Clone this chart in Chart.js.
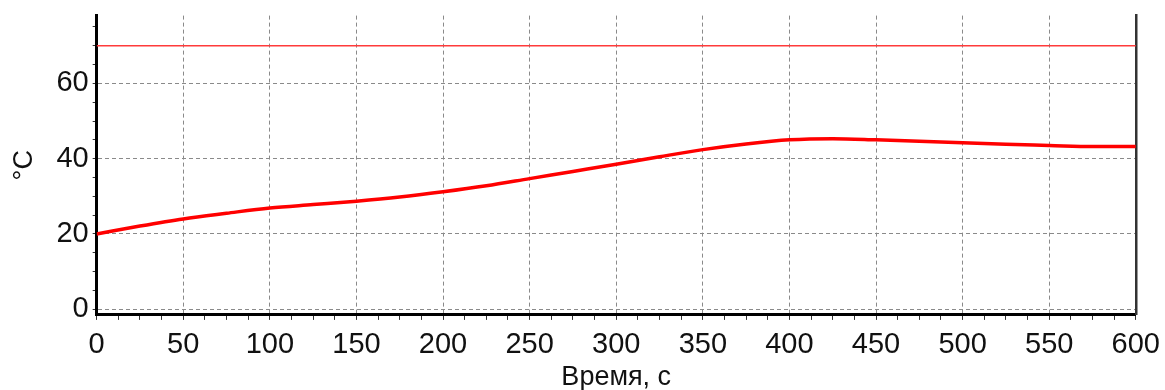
<!DOCTYPE html>
<html>
<head>
<meta charset="utf-8">
<script src="https://cdn.jsdelivr.net/npm/chart.js@4.4.0/dist/chart.umd.min.js"></script>
<style>
  body { margin: 0; background: #fff; }
  #wrap { width: 1165px; height: 390px; }
</style>
</head>
<body>
<div id="wrap"><canvas id="tempChart" width="1165" height="390"></canvas></div>
<script>
// time, s
const timeSec = [0, 25, 50, 75, 100, 125, 150, 175, 200, 225, 250, 275, 300,
  325, 350, 375, 400, 425, 450, 475, 500, 525, 550, 575, 600];
// temperature, °C
const tempC = [20.0, 22.1, 24.0, 25.5, 26.9, 27.8, 28.7, 29.8, 31.2, 32.8, 34.7, 36.6, 38.5,
  40.5, 42.4, 43.9, 45.0, 45.3, 45.0, 44.6, 44.2, 43.8, 43.5, 43.2, 43.2];
// upper limit line
const limitTimes = [0, 600];
const limitValue = 70;

const xTitle = 'Время, с';
const yTitle = '°C';

const fontFamily = '"Liberation Sans", Arial, sans-serif';
const gridGray = '#8a8a8a';

const curve = timeSec.map((t, i) => ({ x: t, y: tempC[i] }));
const limit = limitTimes.map(t => ({ x: t, y: limitValue }));

const ctx = document.getElementById('tempChart').getContext('2d');

new Chart(ctx, {
  type: 'line',
  data: {
    datasets: [
      {
        label: 'limit',
        data: limit,
        borderColor: '#ff3b3b',
        borderWidth: 1.5,
        pointRadius: 0
      },
      {
        label: 'temp',
        data: curve,
        borderColor: '#ff0000',
        borderWidth: 3.5,
        pointRadius: 0,
        cubicInterpolationMode: 'monotone'
      }
    ]
  },
  options: {
    responsive: false,
    animation: false,
    layout: { padding: { top: 5, right: 22, left: 8, bottom: 0 } },
    plugins: {
      legend: { display: false },
      tooltip: { enabled: false }
    },
    scales: {
      x: {
        type: 'linear',
        min: 0,
        max: 600,
        border: { color: '#000', width: 3, dash: [4, 3] },
        grid: {
          color: (c) => (c.tick && c.tick.value % 50 === 0) ? gridGray : 'rgba(0,0,0,0)',
          tickColor: '#333',
          tickBorderDash: [],
          tickLength: 5,
          lineWidth: 1
        },
        ticks: {
          stepSize: 12.5,
          autoSkip: false,
          maxRotation: 0,
          padding: 5,
          color: '#111',
          font: { family: fontFamily, size: 29, lineHeight: 1.4 },
          callback: (v) => (v % 50 === 0 ? v : '')
        },
        title: {
          display: true,
          text: xTitle,
          color: '#111',
          font: { family: fontFamily, size: 27, lineHeight: 0.5 },
          padding: { top: 0, bottom: 6 }
        }
      },
      y: {
        type: 'linear',
        min: -1.5,
        max: 78,
        border: { color: '#000', width: 3, dash: [4, 3] },
        grid: {
          color: (c) => (c.tick && c.tick.value % 20 === 0) ? gridGray : 'rgba(0,0,0,0)',
          tickColor: '#333',
          tickBorderDash: [],
          tickLength: 4,
          lineWidth: 1
        },
        ticks: {
          stepSize: 5,
          includeBounds: false,
          autoSkip: false,
          padding: 4,
          color: '#111',
          font: { family: fontFamily, size: 29, lineHeight: 0.8 },
          callback: (v) => (v % 20 === 0 ? v : '')
        },
        title: {
          display: true,
          text: yTitle,
          color: '#111',
          font: { family: fontFamily, size: 27 },
          padding: { top: 0, bottom: 12 }
        }
      },
      yRight: {
        type: 'linear',
        position: 'right',
        min: -1.5,
        max: 78,
        border: { color: '#333', width: 2.5 },
        grid: { display: false, drawTicks: false },
        ticks: { display: false }
      }
    }
  }
});
</script>
</body>
</html>
